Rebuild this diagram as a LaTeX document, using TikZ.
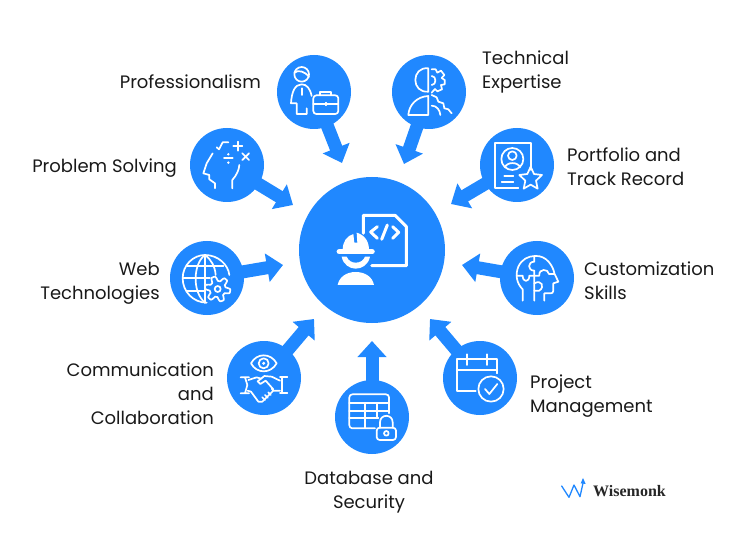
\documentclass[tikz,border=0pt]{standalone}
\usepackage{fontspec}
\setmainfont{Poppins}
\newfontfamily\logofont{Liberation Serif}
\usetikzlibrary{arrows.meta}
\definecolor{wmblue}{HTML}{2088FF}
\tikzset{
  x=1pt,y=-1pt,
  hub/.style={circle,fill=wmblue,inner sep=0pt,minimum size=#1},
  spoke/.style={draw=wmblue,line width=13pt,-{Triangle[width=28pt,length=16pt,fill=wmblue]}},
  lbl/.style={font=\fontsize{18}{24}\selectfont,inner sep=0pt,text=black!90},
  ico/.style={draw=white,line width=1.7pt,line cap=round,line join=round},
  zm/.style args={#1/#2}{shift={(#1,#2)},x=.33333pt,y=-.33333pt},
}
\newcommand{\gearshape}[4]{% cx cy base amp
  \draw[ico,fill=wmblue] plot[samples=145,domain=0:360] ({#1+(#3+#4*max(-1,min(1,1.6*sin(6*\x+30))))*cos(\x)},{#2+(#3+#4*max(-1,min(1,1.6*sin(6*\x+30))))*sin(\x)}) -- cycle;
}
\begin{document}
\begin{tikzpicture}
\useasboundingbox (0,0) rectangle (750,540);
% hubs
\node[hub=146pt] (main) at (372,250) {};
\node[hub=74pt] (prof) at (314,92) {};
\node[hub=74pt] (tech) at (429,92) {};
\node[hub=74pt] (prob) at (227,165) {};
\node[hub=74pt] (port) at (517,165) {};
\node[hub=74pt] (web) at (207,278) {};
\node[hub=74pt] (cust) at (537,278) {};
\node[hub=74pt] (comm) at (264,378) {};
\node[hub=74pt] (proj) at (480,378) {};
\node[hub=74pt] (dbase) at (372,417) {};
% arrow ends
\coordinate (tprof) at (342,163);
\coordinate (ttech) at (404,164);
\coordinate (tprob) at (293,205);
\coordinate (tport) at (451,204);
\coordinate (tweb) at (283,265);
\coordinate (tcust) at (462,265);
\coordinate (tcomm) at (314,319);
\coordinate (tproj) at (430,319);
\coordinate (tdb) at (372,341);
\foreach \a/\b in {prof/tprof,tech/ttech,prob/tprob,port/tport,web/tweb,cust/tcust,comm/tcomm,proj/tproj,dbase/tdb}
  \draw[spoke] (\a.center) -- (\b);
% labels
\node[lbl,anchor=east] (lprof) at (261,82) {Professionalism};
\node[lbl,anchor=west,align=left] (ltech) at (482,72) {Technical\\Expertise};
\node[lbl,anchor=east] (lprob) at (177,168) {Problem Solving};
\node[lbl,anchor=west,align=left] (lport) at (567,167) {Portfolio and\\Track Record};
\node[lbl,anchor=east,align=right] (lweb) at (160,283) {Web\\Technologies};
\node[lbl,anchor=west,align=left] (lcust) at (584,281) {Customization\\Skills};
\node[lbl,anchor=east,align=right] (lcomm) at (214,394) {Communication\\and\\Collaboration};
\node[lbl,anchor=west,align=left] (lproj) at (530,396) {Project\\Management};
\node[lbl,align=center] (ldb) at (369,492) {Database and\\Security};
\node[inner sep=0pt,anchor=west,font=\logofont\bfseries\fontsize{16}{18}\selectfont,text=black!85] (llogo) at (593,491) {Wisemonk};
% logo mark
\begin{scope}[zm=420/310]
\draw[wmblue,line width=1.3pt,line join=round,line cap=round] (425,528) -- (447,562) -- (462,525) -- (480,560) -- (490,515);
\fill[wmblue] (489,504) -- (497,522) -- (482,520) -- cycle;
\end{scope}
% main icon
\begin{scope}[zm=300/170]
\draw[white,line width=3pt,line join=round,line cap=round] (190,190) -- (190,136) -- (285,136) -- (319,170) -- (319,287) -- (215,287);
\draw[white,line width=3pt,line join=round,line cap=round] (232,170) -- (212,186) -- (232,205) (278,170) -- (296,187) -- (278,205) (262,165) -- (245,208);
\fill[white] (128,240) .. controls (128,215) and (140,198) .. (160,192) -- (163,218) -- (172,218) -- (170,188) .. controls (195,195) and (207,215) .. (207,240) -- cycle;
\draw[white,line width=5.5pt,line cap=round] (118,245) -- (216,245);
\fill[white] (125,260) .. controls (130,285) and (150,296) .. (167,296) .. controls (185,296) and (205,285) .. (210,260) -- (195,260) .. controls (190,272) and (180,278) .. (167,278) .. controls (155,278) and (145,272) .. (140,260) -- cycle;
\fill[white] (113,345) .. controls (118,320) and (140,306) .. (167,306) .. controls (195,306) and (217,320) .. (222,345) -- cycle;
\end{scope}
% professionalism icon
\begin{scope}[zm=260/40]
\draw[ico] (125,103) circle (22);
\draw[ico] (103,98) .. controls (115,88) and (135,95) .. (147,110);
\draw[ico] (125,145) -- (125,165);
\draw[ico] (155,168) .. controls (150,145) and (140,133) .. (125,133) .. controls (105,133) and (95,155) .. (93,190) -- (110,190) -- (110,222) -- (140,222) -- (140,205);
\draw[ico,rounded corners=3pt] (160,166) rectangle (235,222);
\draw[ico] (160,192) -- (235,192) (197,188) -- (197,196);
\draw[ico] (180,166) -- (180,157) -- (212,157) -- (212,166);
% technical icon
\draw[ico] (505,85) .. controls (480,82) and (466,100) .. (466,120) .. controls (466,140) and (480,157) .. (505,155) -- cycle;
\draw[ico] (505,168) .. controls (470,170) and (447,195) .. (445,225) -- (505,225) -- cycle;
\draw[ico] (515,88) -- (527,88) -- (532,98) -- (543,92) -- (553,105) -- (545,114) -- (554,120) -- (554,133) -- (543,135) -- (546,148) -- (532,154) -- (525,147) -- (515,158);
\draw[ico] (515,108) .. controls (530,108) and (530,135) .. (515,135);
\draw[ico] (515,165) -- (530,172) -- (535,185) -- (550,190) -- (553,205) -- (565,208) -- (575,220);
\draw[ico] (515,197) .. controls (530,197) and (540,210) .. (541,225);
\end{scope}
% problem solving
\begin{scope}[zm=170/120]
\draw[ico] (135,205) -- (135,190) -- (118,178) -- (118,165) -- (100,160) -- (110,130) -- (128,100);
\draw[ico] (187,205) -- (187,180) .. controls (200,165) and (207,150) .. (208,135);
\draw[ico] (140,82) -- (147,88) -- (158,67) -- (175,67);
\draw[ico] (203,65) -- (203,92) (190,78) -- (217,78);
\draw[ico] (217,100) -- (237,120) (237,100) -- (217,120);
\draw[ico] (162,115) -- (188,115);
\fill[white] (175,103) circle (4) (175,128) circle (4);
% web
\draw[ico] (110,548) .. controls (70,548) and (38,515) .. (38,475) .. controls (38,435) and (70,405) .. (105,405) .. controls (145,405) and (175,435) .. (178,465);
\draw[ico] (105,405) .. controls (70,430) and (65,515) .. (105,548);
\draw[ico] (105,405) .. controls (125,420) and (135,440) .. (137,465);
\draw[ico] (105,405) -- (105,548);
\draw[ico] (52,437) -- (160,437) (38,475) -- (120,475) (50,512) -- (105,512);
\gearshape{143}{507}{31}{7}
\draw[ico] (143,507) circle (9);
\end{scope}
% portfolio
\begin{scope}[zm=450/120]
\draw[ico] (243,150) -- (243,68) -- (135,68) -- (135,205) -- (205,205);
\draw[ico] (187,117) circle (33);
\draw[ico] (187,107) circle (13);
\draw[ico] (165,142) .. controls (170,125) and (205,125) .. (210,142);
\draw[ico] (163,168) -- (190,168) (155,185) -- (190,185);
\draw[ico] (242,140) -- (252,162) -- (276,165) -- (258,182) -- (263,206) -- (242,194) -- (221,206) -- (226,182) -- (208,165) -- (232,162) -- cycle;
\end{scope}
% customization
\begin{scope}[zm=500/250]
\draw[ico] (68,152) -- (68,118) .. controls (50,100) and (45,75) .. (55,50) .. controls (65,28) and (85,18) .. (105,18) .. controls (140,15) and (160,50) .. (163,70) -- (175,95) -- (160,100) -- (160,122) .. controls (160,128) and (156,130) .. (152,130) -- (133,130) -- (133,152);
\draw[ico] (103,18) -- (103,35) .. controls (82,35) and (82,62) .. (103,62) -- (103,152);
\draw[ico] (50,77) -- (68,77) .. controls (68,98) and (88,98) .. (88,77) -- (118,77) .. controls (115,55) and (145,55) .. (147,72) -- (163,72);
\draw[ico] (103,100) .. controls (125,88) and (135,110) .. (118,122) -- (103,122);
\end{scope}
% communication
\begin{scope}[zm=225/340]
\draw[ico] (78,70) .. controls (95,38) and (137,38) .. (155,70) .. controls (137,102) and (95,102) .. (78,70) -- cycle;
\draw[ico] (116,70) circle (15);
\fill[white] (116,70) circle (5);
\draw[ico] (47,112) -- (72,112) (47,160) -- (72,160) (60,112) -- (67,135) -- (60,160);
\draw[ico] (165,112) -- (187,112) (165,160) -- (187,160) (172,112) -- (172,160);
\draw[ico] (70,120) -- (95,112) -- (108,116);
\draw[ico] (165,122) -- (140,110) -- (118,108) -- (98,124) -- (106,132) -- (122,122) -- (145,148);
\draw[ico] (68,152) -- (78,155) -- (100,185) -- (112,185) -- (145,152) -- (140,146) (145,152) -- (165,152);
\draw[ico] (112,172) -- (120,180) (120,165) -- (128,173) (130,157) -- (137,165);
\end{scope}
% database
\begin{scope}[zm=330/375]
\draw[ico,rounded corners=3pt] (135,160) -- (58,160) -- (58,58) -- (177,58) -- (177,115);
\draw[ico] (58,85) -- (177,85) (58,108) -- (177,108) (58,130) -- (145,130);
\draw[ico] (105,85) -- (105,160) (140,85) -- (140,125);
\draw[ico,rounded corners=3pt] (140,158) rectangle (198,195);
\draw[ico] (150,158) -- (150,142) .. controls (150,116) and (188,116) .. (188,142) -- (188,158);
\draw[ico] (169,175) circle (7);
\end{scope}
% project
\begin{scope}[zm=420/310]
\draw[ico] (167,243) -- (110,243) -- (110,147) -- (232,147) -- (232,190);
\draw[ico] (110,180) -- (232,180);
\draw[ico] (140,133) -- (140,165) (200,133) -- (200,165);
\draw[ico] (213,237) circle (38);
\draw[ico] (195,237) -- (208,252) -- (232,222);
\end{scope}
\end{tikzpicture}
\end{document}
